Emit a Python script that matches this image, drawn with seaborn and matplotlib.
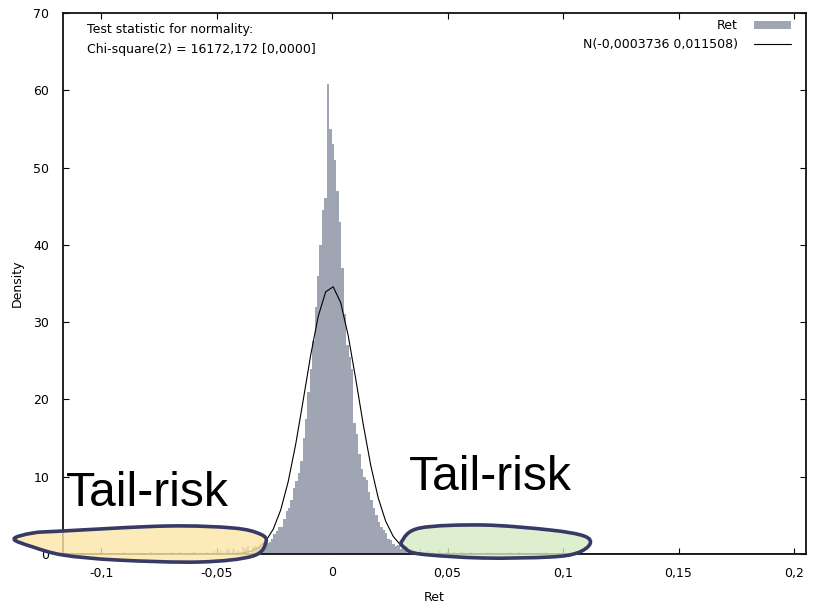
import numpy as np
import pandas as pd
import matplotlib
matplotlib.use("Agg")
import matplotlib.pyplot as plt
import seaborn as sns
from matplotlib.path import Path
from matplotlib.patches import PathPatch, Patch
from matplotlib.lines import Line2D

# --- data ---
# contiguous histogram bins around the centre (density per bin)
bin_width = 0.00105
core_start = -0.0338          # left edge of first core bin
core_dens = [1.0, 0.9, 1.2, 1.0, 1.2, 1.4, 1.5, 2.0, 2.6, 3.0,
             3.5, 3.5, 4.5, 5.5, 6.0, 7.0, 8.5, 9.5, 10.5, 12.0,
             15.0, 17.5, 21.0, 24.0, 27.5, 32.0, 36.0, 40.0, 44.5, 46.0,
             60.8,
             55.0, 53.0, 51.0, 47.0, 43.0, 37.0, 31.0, 27.0, 25.5, 24.0,
             17.0, 15.5, 13.0, 11.0, 10.0, 9.6, 8.0, 7.0, 6.0, 5.0,
             4.2, 3.5, 3.1, 2.7, 2.0, 1.8, 1.3, 1.0, 1.2, 0.7]
# sparse tail bars
left_tail_ret = [-0.1156, -0.0905, -0.0788, -0.0693, -0.0658, -0.0593, -0.0540,
                 -0.0515, -0.0481, -0.0463, -0.0446, -0.0429, -0.0411, -0.0390,
                 -0.0377, -0.0362, -0.0346]
left_tail_dens = [0.3, 0.25, 0.2, 0.25, 0.25, 0.2, 0.3,
                  0.35, 0.5, 0.4, 0.6, 0.7, 0.5, 0.9,
                  0.8, 1.0, 0.9]
right_tail_ret = [0.0307, 0.0320, 0.0338, 0.0359, 0.0381, 0.0416, 0.0437, 0.0468,
                  0.0498, 0.0532, 0.0563, 0.0597, 0.0675, 0.0771, 0.0814, 0.0922]
right_tail_dens = [0.8, 0.5, 0.6, 0.4, 0.6, 0.4, 0.3, 0.4,
                   0.3, 0.3, 0.25, 0.3, 0.3, 0.25, 0.2, 0.2]

norm_mu = -0.0003736
norm_sigma = 0.011508
x_min, x_max = -0.1165, 0.2052

x_ticks = [-0.1, -0.05, 0, 0.05, 0.1, 0.15, 0.2]
x_tick_labels = ["-0,1", "-0,05", "0", "0,05", "0,1", "0,15", "0,2"]
y_ticks = [0, 10, 20, 30, 40, 50, 60, 70]

legend_labels = ["Ret", "N(-0,0003736 0,011508)"]
stat_lines = ["Test statistic for normality:", "Chi-square(2) = 16172,172 [0,0000]"]
tail_labels = ["Tail-risk", "Tail-risk"]

# --- build bins ---
core_centers = core_start + (np.arange(len(core_dens)) + 0.5) * bin_width
hist_df = pd.DataFrame({
    "ret": np.concatenate([left_tail_ret, core_centers, right_tail_ret]),
    "dens": np.concatenate([left_tail_dens, core_dens, right_tail_dens]),
})
n_left = int(np.ceil((core_start - x_min) / bin_width))
n_right = int(np.ceil((x_max - core_start) / bin_width))
bin_lo = core_start - n_left * bin_width
bin_hi = core_start + n_right * bin_width

sns.set_style("ticks")
plt.rcParams["font.family"] = ["DejaVu Sans"]
plt.rcParams["text.color"] = "black"
plt.rcParams["axes.labelcolor"] = "black"

W, H = 817, 606
fig = plt.figure(figsize=(W / 100, H / 100), dpi=100)
ax = fig.add_axes([63 / W, 52 / H, 743 / W, 541 / H])

sns.histplot(data=hist_df, x="ret", weights="dens", bins=n_left + n_right,
             binrange=(bin_lo, bin_hi), stat="count",
             color="#a0a5b4", alpha=1, linewidth=0, ax=ax)

xs = np.linspace(x_min, x_max, 100)
pdf = np.exp(-0.5 * ((xs - norm_mu) / norm_sigma) ** 2) / (norm_sigma * np.sqrt(2 * np.pi))
sns.lineplot(x=xs, y=pdf, color="black", lw=0.8, ax=ax)

ax.set_xlim(x_min, x_max)
ax.set_ylim(0, 70)
ax.set_xticks(x_ticks)
ax.set_xticklabels(x_tick_labels)
ax.set_yticks(y_ticks)
ax.set_yticklabels([str(v) for v in y_ticks])
ax.tick_params(direction="in", top=True, right=True, length=4.5, width=0.8,
               labelsize=9, colors="black")
ax.tick_params(axis="y", pad=10)
ax.tick_params(axis="x", pad=9)
for s in ax.spines.values():
    s.set_color("#111111")
    s.set_linewidth(1.3)
ax.set_xlabel("Ret", fontsize=9, labelpad=8)
ax.set_ylabel("Density", fontsize=9, labelpad=7)

# statistic text
ax.text(87 / W, 1 - 29 / H, stat_lines[0], transform=fig.transFigure, fontsize=9, va="center")
ax.text(87 / W, 1 - 50 / H, stat_lines[1], transform=fig.transFigure, fontsize=9, va="center")

handles = [Patch(facecolor="#a0a5b4", edgecolor="none"),
           Line2D([0], [0], color="black", lw=0.8)]
ax.legend(handles, legend_labels, loc="upper right", markerfirst=False, frameon=False,
          fontsize=9, handlelength=3.0, handleheight=0.6, handletextpad=1.25,
          labelspacing=0.45, borderaxespad=0, bbox_to_anchor=(0.9866, 0.998))


def blob(pts, face):
    p = np.array([(x / W, 1 - y / H) for x, y in pts])
    n = len(p)
    verts = [p[0]]
    codes = [Path.MOVETO]
    for i in range(n):
        p0, p1, p2, p3 = p[i - 1], p[i], p[(i + 1) % n], p[(i + 2) % n]
        verts += [p1 + (p2 - p0) / 6, p2 - (p3 - p1) / 6, p2]
        codes += [Path.CURVE4] * 3
    patch = PathPatch(Path(verts, codes), transform=fig.transFigure, facecolor=face,
                      edgecolor="#383a66", lw=2.6, clip_on=False, zorder=5)
    fig.add_artist(patch)


blob([(14, 539), (33, 533), (63, 531), (167, 526), (233, 528), (260, 534), (266, 542),
      (253, 556), (200, 562), (117, 560), (63, 555), (33, 547)], (0.99, 0.90, 0.66, 0.8))
blob([(402, 541), (420, 528), (483, 525), (550, 530), (584, 536), (590, 544),
      (577, 553), (550, 557), (483, 558), (420, 554), (405, 548)], (0.84, 0.92, 0.77, 0.8))

fig.text(66 / W, 1 - 506 / H, tail_labels[0], fontsize=34.5, family="Liberation Sans",
         va="baseline", ha="left")
fig.text(409 / W, 1 - 490 / H, tail_labels[1], fontsize=34.5, family="Liberation Sans",
         va="baseline", ha="left")

fig.savefig("out.png", dpi=100)
